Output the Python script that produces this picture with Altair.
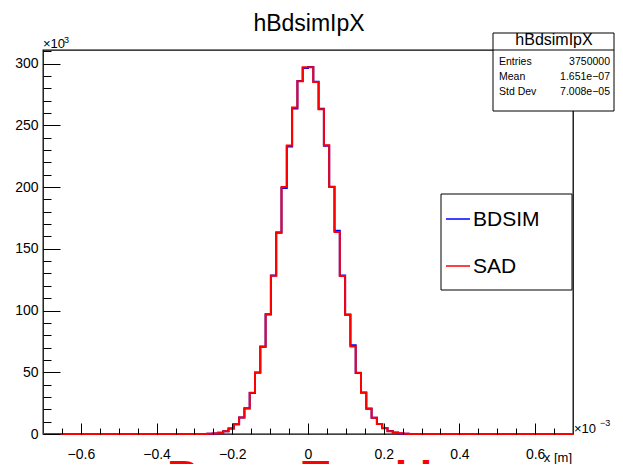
import altair as alt
import pandas as pd

FONT = "Liberation Sans"

# ---------------- data (counts in units of 10^3, x in units of 10^-3 m) -------------
bin_lo = [-0.266, -0.252, -0.238, -0.224, -0.210, -0.196, -0.182, -0.168, -0.154, -0.140,
          -0.126, -0.112, -0.098, -0.084, -0.070, -0.056, -0.042, -0.028, -0.014,
          0.000, 0.014, 0.028, 0.042, 0.056, 0.070, 0.084, 0.098, 0.112, 0.126,
          0.140, 0.154, 0.168, 0.182, 0.196, 0.210, 0.224, 0.238, 0.252]
bin_width = 0.014

sad_k = [0.2, 0.5, 1.0, 2.2, 4.4, 7.9, 13.3, 20.7, 33.4, 49.7,
         70.8, 96.8, 128.2, 163.3, 200.0, 233.6, 264.5, 285.7, 297.0,
         297.0, 285.0, 263.0, 233.8, 200.0, 163.5, 128.0, 96.7, 70.9, 49.7,
         33.5, 20.6, 13.1, 8.2, 4.8, 2.3, 1.1, 0.6, 0.25]

bdsim_k = [0.2, 0.4, 1.1, 2.3, 4.5, 7.8, 13.4, 20.9, 33.2, 49.9,
           70.6, 97.0, 128.4, 163.0, 199.3, 232.8, 263.7, 285.9, 296.4,
           297.3, 285.3, 263.4, 233.5, 200.3, 164.6, 128.3, 96.5, 71.8, 49.5,
           33.7, 20.4, 13.2, 8.0, 4.7, 2.4, 1.2, 0.5, 0.3]

x_major = [-0.6, -0.4, -0.2, 0.0, 0.2, 0.4, 0.6]
x_minor = [-0.65, -0.6, -0.55, -0.5, -0.45, -0.4, -0.35, -0.3, -0.25, -0.2, -0.15, -0.1,
           -0.05, 0.0, 0.05, 0.1, 0.15, 0.2, 0.25, 0.3, 0.35, 0.4, 0.45, 0.5, 0.55,
           0.6, 0.65]
y_major = [0, 50, 100, 150, 200, 250, 300]
y_minor = [0, 10, 20, 30, 40, 50, 60, 70, 80, 90, 100, 110, 120, 130, 140, 150, 160,
           170, 180, 190, 200, 210, 220, 230, 240, 250, 260, 270, 280, 290, 300, 310]

series_names = ["BDSIM", "SAD"]
series_colors = ["#0000ff", "#ff0000"]
hist_name = "hBdsimIpX"
stats_names = ["Entries", "Mean", "Std Dev"]
stats_vals = ["3750000", "1.651e\u221207", "7.008e\u221205"]
x_title = "x [m]"
footer = "Beam Tracking"

x_lo, x_hi = -0.7, 0.7
y_top = 311

W, H = 530, 384


def hist_frame(vals):
    xs = [x_lo] + bin_lo + [bin_lo[-1] + bin_width, x_hi]
    ys = [0.0] + vals + [0.0, 0.0]
    return pd.DataFrame({"x": xs, "y": ys})


df_b = hist_frame(bdsim_k)
df_r = hist_frame(sad_k)
one = pd.DataFrame({"k": [0]})

xs = alt.Scale(domain=[x_lo, x_hi], nice=False, zero=False)
ys = alt.Scale(domain=[0, y_top], nice=False, zero=False)

x_label_axis = alt.Axis(values=x_major,
                        labelExpr="datum.value == 0 ? '0' : format(datum.value, '.1f')",
                        ticks=False, tickSize=0, domain=False, grid=False,
                        labelFontSize=14, labelFont=FONT, labelColor="black",
                        labelPadding=13, title=None, labelFlush=False,
                        labelOverlap=False, zindex=0)
y_label_axis = alt.Axis(values=y_major, format="d", ticks=False, tickSize=0,
                        domain=False, grid=False, labelFontSize=14, labelFont=FONT,
                        labelColor="black", labelPadding=5, title=None,
                        labelFlush=False, labelOverlap=False, zindex=0)


def tick_axis(orient, offset, values, size):
    return alt.Axis(orient=orient, offset=offset, values=values, labels=False,
                    domain=False, grid=False, ticks=True, tickSize=size,
                    tickColor="black", tickWidth=1, title=None, zindex=1)


blue = alt.Chart(df_b).mark_line(interpolate="step-after", color=series_colors[0],
                                 strokeWidth=2).encode(
    x=alt.X("x:Q", scale=xs, axis=x_label_axis),
    y=alt.Y("y:Q", scale=ys, axis=y_label_axis))

red = alt.Chart(df_r).mark_line(interpolate="step-after", color=series_colors[1],
                                strokeWidth=2).encode(
    x=alt.X("x:Q", scale=xs, axis=None),
    y=alt.Y("y:Q", scale=ys, axis=None))

major_ticks = alt.Chart(df_r).mark_line(opacity=0).encode(
    x=alt.X("x:Q", scale=xs, axis=tick_axis("top", -H, x_major, 11)),
    y=alt.Y("y:Q", scale=ys, axis=tick_axis("right", -W, y_major, 17)))

minor_ticks = alt.Chart(df_r).mark_line(opacity=0).encode(
    x=alt.X("x:Q", scale=xs, axis=tick_axis("top", -H, x_minor, 6)),
    y=alt.Y("y:Q", scale=ys, axis=tick_axis("right", -W, y_minor, 8)))


def txt(x, y, s, size, align="left", baseline="alphabetic", color="black", weight="normal"):
    return alt.Chart(one).mark_text(align=align, baseline=baseline, fontSize=size,
                                    font=FONT, color=color, fontWeight=weight).encode(
        x=alt.value(x), y=alt.value(y), text=alt.value(s))


def box(x, x2, y, y2):
    return alt.Chart(one).mark_rect(fill="white", stroke="black", strokeWidth=1).encode(
        x=alt.value(x), x2=alt.value(x2), y=alt.value(y), y2=alt.value(y2))


def hline(x, x2, y, color, width=1):
    return alt.Chart(one).mark_rule(color=color, strokeWidth=width).encode(
        x=alt.value(x), x2=alt.value(x2), y=alt.value(y))


annotations = [
    # title
    txt(266, -19, hist_name, 23, align="center"),
    # exponent labels
    txt(0, -2, "\u00d710", 13),
    txt(21, -7, "3", 9),
    txt(531, 383, "\u00d710", 13),
    txt(557, 376, "\u22123", 9),
    # axis title
    txt(529, 412, x_title, 13, align="right"),
    # stats box (page edge limits its right side)
    box(450, 571, -17, 61),
    hline(450, 571, 0, "black"),
    txt(511, -5, hist_name, 16, align="center"),
    # legend
    box(398, 529, 144, 240),
    hline(403, 427, 169, series_colors[0], 1.5),
    hline(403, 427, 216, series_colors[1], 1.5),
    txt(430, 170, series_names[0], 21, baseline="middle"),
    txt(430, 217, series_names[1], 21, baseline="middle"),
    # footer (cut by page edge)
    txt(124, 442, footer, 45, color="red", weight="bold"),
]
for i, (n, v) in enumerate(zip(stats_names, stats_vals)):
    annotations.append(txt(456, 12 + 15 * i, n, 10.5, baseline="middle"))
    annotations.append(txt(567, 12 + 15 * i, v, 10.5, align="right", baseline="middle"))

chart = alt.layer(blue, red, major_ticks, minor_ticks, *annotations).resolve_axis(
    x="independent", y="independent"
).properties(
    width=W, height=H,
    autosize=alt.AutoSizeParams(type="none"),
    padding={"left": 35, "top": 42, "right": 42, "bottom": 30},
    background="white",
).configure_view(stroke="black", strokeWidth=1.3)

chart.save("out.html", embed_options={"renderer": "svg", "actions": False})
